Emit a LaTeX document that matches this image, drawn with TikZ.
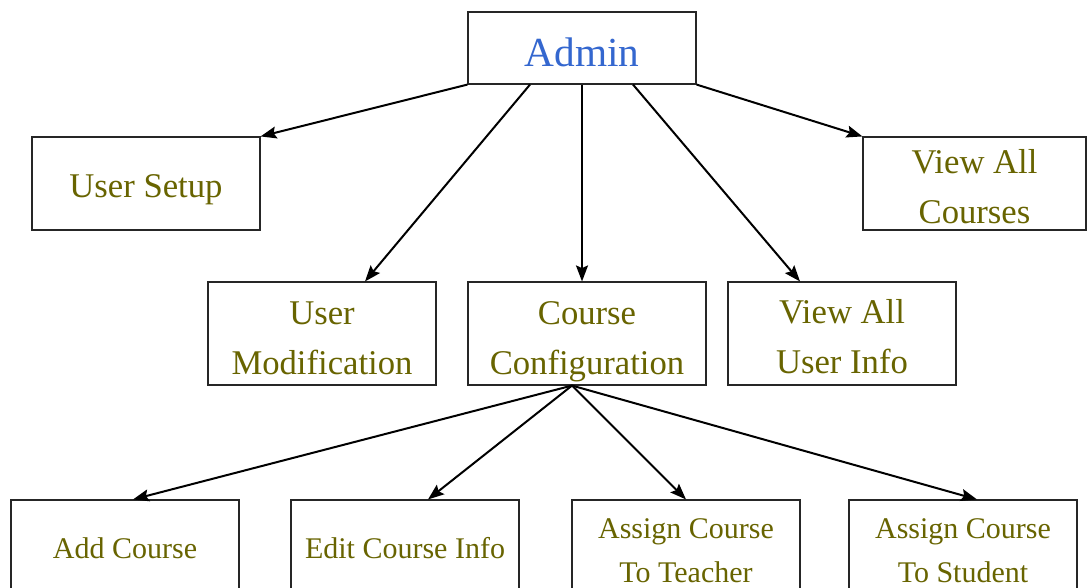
\documentclass[tikz,border=0pt]{standalone}
\usepackage{fontspec}
\setmainfont{Liberation Serif}
\usetikzlibrary{arrows.meta,calc}
\definecolor{olivetext}{RGB}{104,100,0}
\definecolor{admintext}{RGB}{52,103,207}
\begin{document}
\begin{tikzpicture}[x=0.75pt,y=-0.75pt,
  box/.style={draw=black!85,line width=0.85pt,inner sep=0pt,minimum width=171pt,minimum height=77.25pt},
  lowbox/.style={box,minimum height=75pt},
  midtxt/.style={align=center,text=olivetext,font=\fontsize{26}{37.5}\selectfont,inner sep=0pt},
  lowtxt/.style={align=center,text=olivetext,font=\fontsize{22.5}{33}\selectfont,inner sep=0pt},
  arr/.style={line width=1.5pt,-{Stealth[length=12pt,width=9pt,inset=2pt]}}]
\useasboundingbox (0,0) rectangle (1087,587);
\clip (0,0) rectangle (1087,587);
\fill[white] (0,0) rectangle (1087,587);
% nodes
\node[box,minimum height=54pt,label={[name=admintxt,inner sep=0pt,yshift=-3pt,text=admintext,font=\fontsize{31}{37}\selectfont]center:Admin}] (admin) at (582,48) {};
\node[box,minimum height=69.75pt,label={[name=ustxt,midtxt,yshift=-5pt]center:User Setup}] (us) at (146,183.5) {};
\node[box,minimum width=167.25pt,minimum height=69.75pt,label={[name=vactxt,midtxt,yshift=-2.5pt]center:View All\\Courses}] (vac) at (974.5,183.5) {};
\node[box,label={[name=umtxt,midtxt,yshift=-3.5pt]center:User\\Modification}] (um) at (322,333.5) {};
\node[box,minimum width=178.5pt,label={[name=cctxt,midtxt,yshift=-6.5pt]center:Course\\Configuration}] (cc) at (587,333.5) {};
\node[box,label={[name=vuitxt,midtxt,yshift=-2pt]center:View All\\User Info}] (vui) at (842,333.5) {};
\node[lowbox,label={[name=actxt,lowtxt,yshift=1.5pt]center:Add Course}] (ac) at (125,550) {};
\node[lowbox,label={[name=ectxt,lowtxt,yshift=1.5pt]center:Edit Course Info}] (ec) at (405,550) {};
\node[lowbox,label={[name=attxt,lowtxt,yshift=-0.75pt]center:Assign Course\\To Teacher}] (at) at (686,550) {};
\node[lowbox,label={[name=astxt,lowtxt,yshift=-0.75pt]center:Assign Course\\To Student}] (as) at (963,550) {};
% connectors from Admin
\draw[arr] (admin.south west) -- (us.north east);
\draw[arr] ($(admin.south)+(-52,0)$) -- ($(um.north)+(43,0)$);
\draw[arr] (admin.south) -- (admin.south |- cc.north);
\draw[arr] ($(admin.south)+(51,0)$) -- ($(vui.north)+(-42,0)$);
\draw[arr] (admin.south east) -- (vac.north west);
% connectors from Course Configuration
\coordinate (ccout) at ($(cc.south)+(-15,0)$);
\draw[arr] (ccout) -- ($(ac.north)+(8,0)$);
\draw[arr] (ccout) -- ($(ec.north)+(23,0)$);
\draw[arr] (ccout) -- (at.north);
\draw[arr] (ccout) -- ($(as.north)+(14,0)$);
\end{tikzpicture}
\end{document}
